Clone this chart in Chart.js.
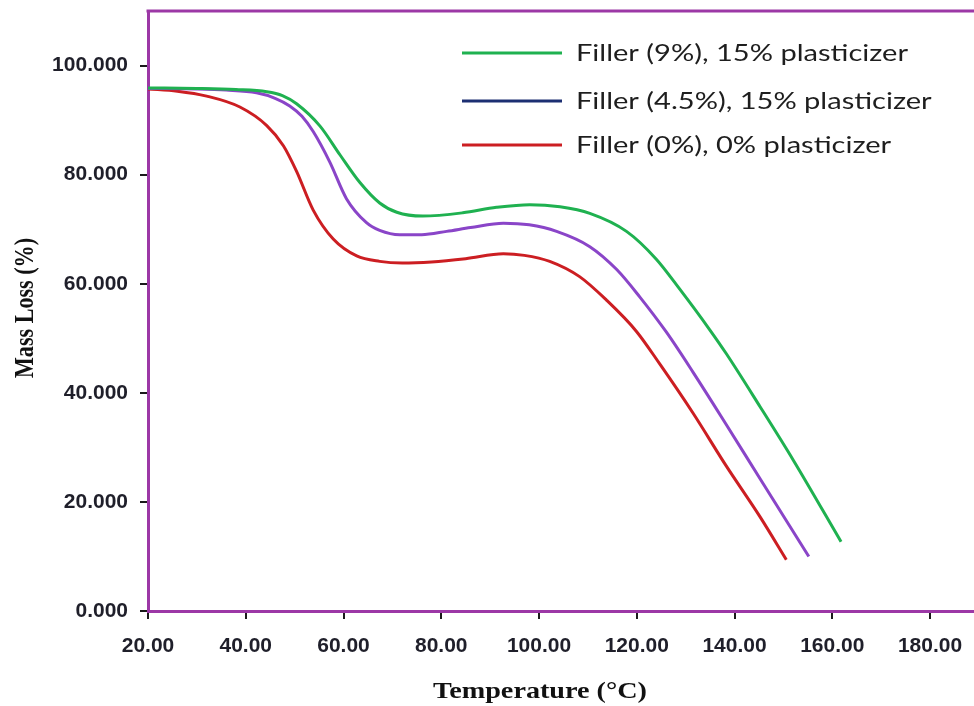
<!DOCTYPE html>
<html>
<head>
<meta charset="utf-8">
<script src="https://cdn.jsdelivr.net/npm/chart.js@4"></script>
<style>
  html, body { margin: 0; padding: 0; background: #ffffff; }
  #wrap { width: 974px; height: 706px; }
</style>
</head>
<body>
<div id="wrap"><canvas id="c" width="974" height="706"></canvas></div>
<script>
// ---- Data ----
const seriesLabels = [
  "Filler (9%), 15% plasticizer",
  "Filler (4.5%), 15% plasticizer",
  "Filler (0%), 0% plasticizer"
];
const xAxisTitle = "Temperature (°C)";
const yAxisTitle = "Mass Loss (%)";

const tempFiller9 = [20, 30, 38, 44.3, 47.5, 50.4, 55.2, 59.3, 63.4, 67.4, 70.9, 76.2, 84.4, 91.3, 98.1, 104.3, 110.4, 117.9, 124, 128.8, 134.9, 138.3, 145.2, 152, 161.8];
const massFiller9 = [95.9, 95.8, 95.6, 95.2, 94.5, 93.0, 88.9, 83.6, 78.5, 74.8, 73.1, 72.4, 73.0, 74.0, 74.5, 74.1, 72.9, 69.6, 64.5, 59.0, 51.6, 47.2, 37.5, 27.7, 12.7];

const tempFiller45 = [20, 30, 36, 42.2, 46, 49, 51.5, 53.8, 57.2, 60.6, 64.7, 67.4, 71.5, 76, 81.1, 86, 92.7, 98, 103.6, 110.4, 115.9, 120.6, 126, 131.5, 138.3, 145.2, 155.2];
const massFiller45 = [95.8, 95.7, 95.5, 95.0, 94.0, 92.6, 90.7, 87.9, 82.3, 75.6, 71.2, 69.8, 69.0, 69.0, 69.6, 70.3, 71.1, 70.8, 69.6, 66.8, 62.6, 57.6, 51.2, 43.8, 34.2, 24.3, 10.0];

const tempFiller0 = [20, 26, 32, 38.8, 44.3, 47.7, 50.4, 53.8, 57.9, 62.7, 67.4, 72, 78, 85, 92.7, 97, 102.2, 108.3, 113.8, 119.9, 124.7, 131.5, 138.3, 145.2, 150.6];
const massFiller0 = [95.7, 95.3, 94.4, 92.4, 89.0, 85.3, 80.6, 73.5, 68.2, 65.1, 64.1, 63.8, 64.0, 64.6, 65.5, 65.2, 64.1, 61.3, 57.0, 51.3, 45.3, 36.3, 26.6, 17.3, 9.4];

const xTickStep = 20;
const yTickStep = 20;

// ---- Styles ----
const lineColors = ["#1fb150", "#8a45c8", "#cc1e22"];
const legendColors = ["#1fb150", "#1c2f72", "#cc1e22"];
const axisPurple = "#9c38a6";

function toPoints(xs, ys) { return xs.map((x, i) => ({ x: x, y: ys[i] })); }

const datasets = [
  { label: seriesLabels[0], data: toPoints(tempFiller9, massFiller9) },
  { label: seriesLabels[1], data: toPoints(tempFiller45, massFiller45) },
  { label: seriesLabels[2], data: toPoints(tempFiller0, massFiller0) }
].map((d, i) => Object.assign(d, {
  borderColor: lineColors[i],
  backgroundColor: lineColors[i],
  borderWidth: 3,
  pointRadius: 0,
  fill: false,
  cubicInterpolationMode: "monotone"
}));

const frameAndLegend = {
  id: "frameAndLegend",
  afterDraw(chart) {
    const ctx = chart.ctx;
    const a = chart.chartArea;
    ctx.save();
    // top frame line
    ctx.strokeStyle = axisPurple;
    ctx.lineWidth = 3;
    ctx.beginPath();
    ctx.moveTo(a.left - 1.5, a.top);
    ctx.lineTo(a.right, a.top);
    ctx.stroke();

    // legend
    const rows = [53, 101, 145];
    ctx.font = "23px Lato";
    ctx.textBaseline = "middle";
    ctx.textAlign = "left";
    const sx = 332 / ctx.measureText(seriesLabels[0]).width;
    seriesLabels.forEach((lab, i) => {
      ctx.strokeStyle = legendColors[i];
      ctx.lineWidth = 3;
      ctx.beginPath();
      ctx.moveTo(462, rows[i]);
      ctx.lineTo(562, rows[i]);
      ctx.stroke();
      ctx.save();
      ctx.translate(576, rows[i] + 1);
      ctx.scale(sx, 1);
      ctx.fillStyle = "#1e1e1e";
      ctx.fillText(lab, 0, 0);
      ctx.restore();
    });

    // x axis title
    ctx.font = "bold 24px 'Liberation Serif'";
    ctx.textBaseline = "alphabetic";
    ctx.textAlign = "center";
    ctx.fillStyle = "#111";
    const xs = 214 / ctx.measureText(xAxisTitle).width;
    ctx.save();
    ctx.translate(540, 698);
    ctx.scale(xs, 1);
    ctx.fillText(xAxisTitle, 0, 0);
    ctx.restore();

    // y axis title (rotated)
    ctx.font = "bold 22px 'Liberation Serif'";
    const ys = 140 / ctx.measureText(yAxisTitle).width;
    ctx.save();
    ctx.translate(33, 308);
    ctx.scale(1.22, 1);
    ctx.rotate(-Math.PI / 2);
    ctx.scale(ys, 1);
    ctx.fillText(yAxisTitle, 0, 0);
    ctx.restore();

    ctx.restore();
  }
};

new Chart(document.getElementById("c"), {
  type: "line",
  data: { datasets: datasets },
  options: {
    responsive: false,
    animation: false,
    devicePixelRatio: 1,
    layout: { padding: { top: 11, right: 0, bottom: 0, left: 0 } },
    plugins: { legend: { display: false }, tooltip: { enabled: false } },
    scales: {
      x: {
        type: "linear",
        min: 20,
        max: 189,
        border: { display: true, color: axisPurple, width: 3 },
        grid: { drawOnChartArea: false, drawTicks: true, tickLength: 8, color: "#1a1a1a", lineWidth: 2 },
        ticks: {
          stepSize: xTickStep,
          includeBounds: false,
          autoSkip: false,
          maxRotation: 0,
          padding: 15,
          color: "#1f1f2a",
          font: { family: "Liberation Sans", weight: "bold", size: 21 },
          callback: v => Number(v).toFixed(2)
        },
        title: { display: false },
        afterFit: s => { s.height = 95; s.paddingLeft = 0; s.paddingRight = 0; }
      },
      y: {
        type: "linear",
        min: 0,
        max: 110,
        border: { display: true, color: axisPurple, width: 3 },
        grid: { drawOnChartArea: false, drawTicks: true, tickLength: 8, color: "#1a1a1a", lineWidth: 2 },
        ticks: {
          stepSize: yTickStep,
          includeBounds: false,
          padding: 12,
          color: "#1f1f2a",
          font: { family: "Liberation Sans", weight: "bold", size: 21 },
          callback: v => Number(v).toFixed(3)
        },
        title: { display: false },
        afterFit: s => { s.width = 148; s.paddingTop = 0; s.paddingBottom = 0; }
      }
    }
  },
  plugins: [frameAndLegend]
});
</script>
</body>
</html>
